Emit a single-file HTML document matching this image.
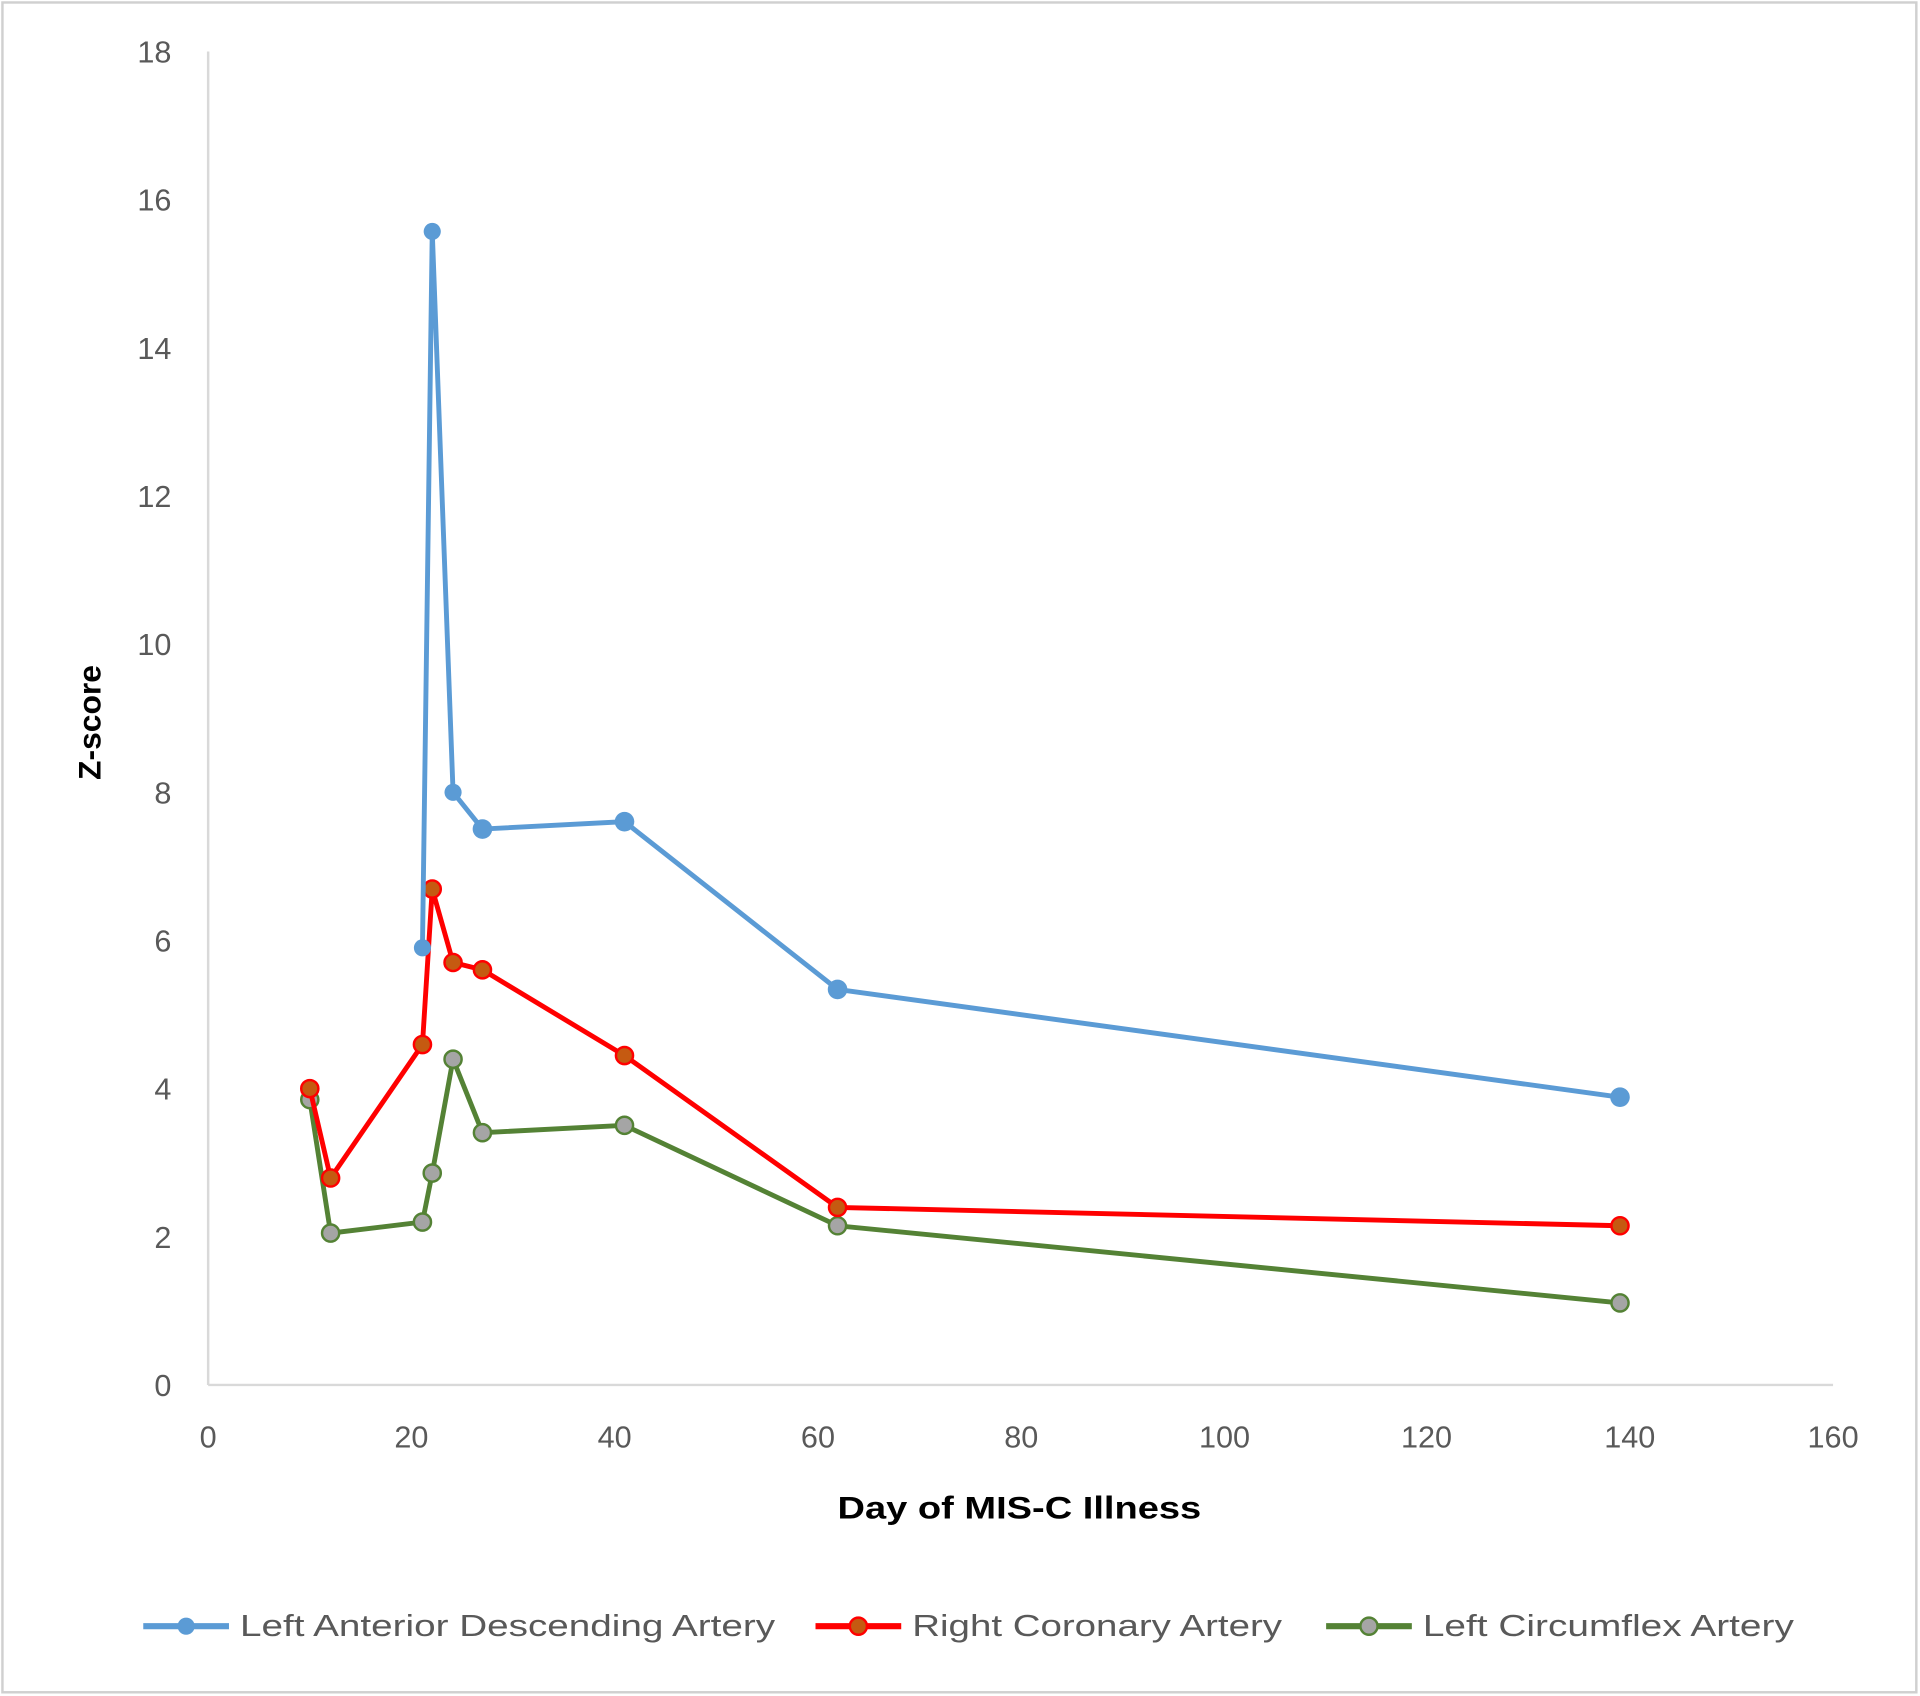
<!DOCTYPE html>
<html><head><style>
html,body{margin:0;padding:0;background:#fff;}
svg{display:block;}
text{font-family:"Liberation Sans",sans-serif;}
</style></head><body>
<svg width="1920" height="1696" viewBox="0 0 1568 1385" xmlns="http://www.w3.org/2000/svg">
<rect x="2" y="2" width="1563" height="1380" fill="#fff" stroke="#d0d0d0" stroke-width="2"/>
<line x1="170" y1="42" x2="170" y2="1131" stroke="#d9d9d9" stroke-width="2"/>
<line x1="170" y1="1131" x2="1497" y2="1131" stroke="#d9d9d9" stroke-width="2"/>
<g fill="#595959" font-size="25" text-anchor="end">
<text x="140" y="1140">0</text><text x="140" y="1019">2</text><text x="140" y="898">4</text>
<text x="140" y="777">6</text><text x="140" y="656">8</text><text x="140" y="535">10</text>
<text x="140" y="414">12</text><text x="140" y="293">14</text><text x="140" y="172">16</text>
<text x="140" y="51">18</text>
</g>
<g fill="#595959" font-size="25" text-anchor="middle">
<text x="170" y="1182">0</text><text x="336" y="1182">20</text><text x="502" y="1182">40</text>
<text x="668" y="1182">60</text><text x="834" y="1182">80</text><text x="1000" y="1182">100</text>
<text x="1165" y="1182">120</text><text x="1331" y="1182">140</text><text x="1497" y="1182">160</text>
</g>
<text x="684" y="1240" font-size="26" font-weight="bold" fill="#000" textLength="297" lengthAdjust="spacingAndGlyphs">Day of MIS-C Illness</text>
<text transform="translate(82,590) rotate(-90)" font-size="26" font-weight="bold" text-anchor="middle" fill="#000">Z-score</text>
<polyline fill="none" stroke="#548235" stroke-width="4" points="253,898 270,1007 345,998 353,958 370,865 394,925 510,919 684,1001 1323,1064"/>
<g fill="#a5a5a5" stroke="#548235" stroke-width="2">
<circle cx="253" cy="898" r="7"/><circle cx="270" cy="1007" r="7"/><circle cx="345" cy="998" r="7"/><circle cx="353" cy="958" r="7"/><circle cx="370" cy="865" r="7"/><circle cx="394" cy="925" r="7"/><circle cx="510" cy="919" r="7"/><circle cx="684" cy="1001" r="7"/><circle cx="1323" cy="1064" r="7"/>
</g>
<polyline fill="none" stroke="#ff0000" stroke-width="4" points="253,889 270,962 345,853 353,726 370,786 394,792 510,862 684,986 1323,1001"/>
<g fill="#c55a11" stroke="#ff0000" stroke-width="2">
<circle cx="253" cy="889" r="7"/><circle cx="270" cy="962" r="7"/><circle cx="345" cy="853" r="7"/><circle cx="353" cy="726" r="7"/><circle cx="370" cy="786" r="7"/><circle cx="394" cy="792" r="7"/><circle cx="510" cy="862" r="7"/><circle cx="684" cy="986" r="7"/><circle cx="1323" cy="1001" r="7"/>
</g>
<polyline fill="none" stroke="#5b9bd5" stroke-width="4" points="345,774 353,189 370,647 394,677 510,671 684,808 1323,896"/>
<g fill="#5b9bd5">
<circle cx="345" cy="774" r="7"/><circle cx="353" cy="189" r="7"/><circle cx="370" cy="647" r="7"/><circle cx="394" cy="677" r="8"/><circle cx="510" cy="671" r="8"/><circle cx="684" cy="808" r="8"/><circle cx="1323" cy="896" r="8"/>
</g>
<line x1="117" y1="1328" x2="187" y2="1328" stroke="#5b9bd5" stroke-width="5"/>
<circle cx="152" cy="1328" r="7" fill="#5b9bd5"/>
<text x="196" y="1336" font-size="25" fill="#595959" textLength="437" lengthAdjust="spacingAndGlyphs">Left Anterior Descending Artery</text>
<line x1="666" y1="1328" x2="736" y2="1328" stroke="#ff0000" stroke-width="5"/>
<circle cx="701" cy="1328" r="7" fill="#c55a11" stroke="#ff0000" stroke-width="2"/>
<text x="745" y="1336" font-size="25" fill="#595959" textLength="302" lengthAdjust="spacingAndGlyphs">Right Coronary Artery</text>
<line x1="1083" y1="1328" x2="1153" y2="1328" stroke="#548235" stroke-width="5"/>
<circle cx="1118" cy="1328" r="7" fill="#a5a5a5" stroke="#548235" stroke-width="2"/>
<text x="1162" y="1336" font-size="25" fill="#595959" textLength="303" lengthAdjust="spacingAndGlyphs">Left Circumflex Artery</text>
</svg>
</body></html>
